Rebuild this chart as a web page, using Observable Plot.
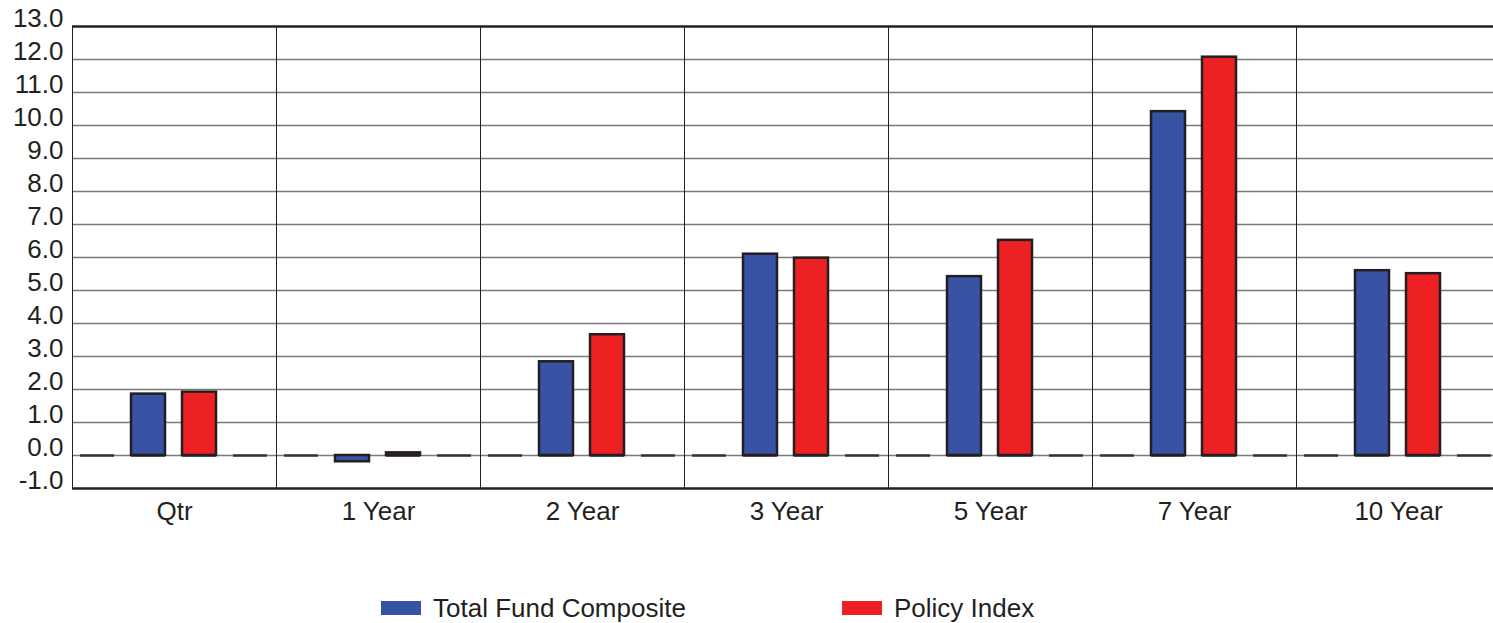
<!DOCTYPE html>
<html>
<head>
<meta charset="utf-8">
<script src="https://cdn.jsdelivr.net/npm/d3@7"></script>
<script src="https://cdn.jsdelivr.net/npm/@observablehq/plot@0.6"></script>
<style>
  html, body { margin: 0; padding: 0; background: #fff; overflow: hidden; }
  body { font-family: "Liberation Sans", Arial, Helvetica, sans-serif; color: #231f20; }
  #legend { position: relative; height: 78px; }
  .item { position: absolute; top: 50px; height: 26px; display: flex; align-items: center; font-size: 26px; white-space: nowrap; }
  .swatch { width: 40px; height: 14px; margin-right: 12px; }
</style>
</head>
<body>
<div id="chart"></div>
<div id="legend"></div>
<script>
// Annualized returns by period
const categories = ["Qtr", "1 Year", "2 Year", "3 Year", "5 Year", "7 Year", "10 Year"];
const totalFund = [1.86, -0.19, 2.84, 6.10, 5.42, 10.42, 5.60];
const policyIndex = [1.92, 0.08, 3.66, 5.98, 6.52, 12.07, 5.51];
const seriesNames = ["Total Fund Composite", "Policy Index"];
const seriesColors = ["#3953a4", "#ed2024"];
const yTicks = [-1, 0, 1, 2, 3, 4, 5, 6, 7, 8, 9, 10, 11, 12, 13];

// Each period has four slots: an empty lead slot, the two series, an empty trail slot
const slots = ["lead", ...seriesNames, "trail"];
const table = categories.flatMap((cat, i) => [
  {cat, slot: "lead", value: 0},
  {cat, slot: seriesNames[0], value: totalFund[i]},
  {cat, slot: seriesNames[1], value: policyIndex[i]},
  {cat, slot: "trail", value: 0}
]);

const ink = "#231f20";
const fontSize = 26;
const fmt = d3.format(".1f");

const chart = Plot.plot({
  width: 1501,
  height: 545,
  marginTop: 26,
  marginLeft: 71,
  marginRight: 0,
  marginBottom: 57,
  style: {maxWidth: "none", fontFamily: "'Liberation Sans', Arial, Helvetica, sans-serif", color: ink, background: "#fff", overflow: "visible"},
  fx: {domain: categories, padding: 0},
  x: {domain: slots, paddingInner: 0.33, paddingOuter: 0.165, axis: null},
  y: {domain: [-1, 13]},
  color: {domain: slots, range: ["none", ...seriesColors, "none"]},
  marks: [
    Plot.ruleY(yTicks.slice(1, -1), {stroke: "#7a7a7a", strokeWidth: 1.5}),
    Plot.frame({stroke: ink, strokeWidth: 1}),
    Plot.ruleY([yTicks[0], yTicks[yTicks.length - 1]], {stroke: ink, strokeWidth: 2.5}),
    // baseline segment under every slot (empty slots show only this)
    Plot.tickY(table, {fx: "cat", x: "slot", y: () => 0, stroke: "#333", strokeWidth: 2.5}),
    Plot.barY(table.filter(d => d.value !== 0), {fx: "cat", x: "slot", y: "value", fill: "slot", stroke: ink, strokeWidth: 2.5}),
    Plot.axisY(yTicks, {
      anchor: "left", line: true, tickSize: 0, tickPadding: 9, dy: -8,
      stroke: ink, strokeWidth: 2.5, fill: ink,
      fontSize, tickFormat: d => fmt(d).replace("\u2212", "-"), label: null
    }),
    Plot.axisFx({anchor: "bottom", tickSize: 0, tickPadding: 13, fontSize, fill: ink, label: null})
  ]
});
document.getElementById("chart").appendChild(chart);

// Legend below the chart
const legend = d3.select("#legend");
const legendLeft = [381, 842];
seriesNames.forEach((name, i) => {
  const item = legend.append("div").attr("class", "item").style("left", legendLeft[i] + "px");
  item.append("div").attr("class", "swatch").style("background", seriesColors[i]);
  item.append("span").text(name);
});
</script>
</body>
</html>
